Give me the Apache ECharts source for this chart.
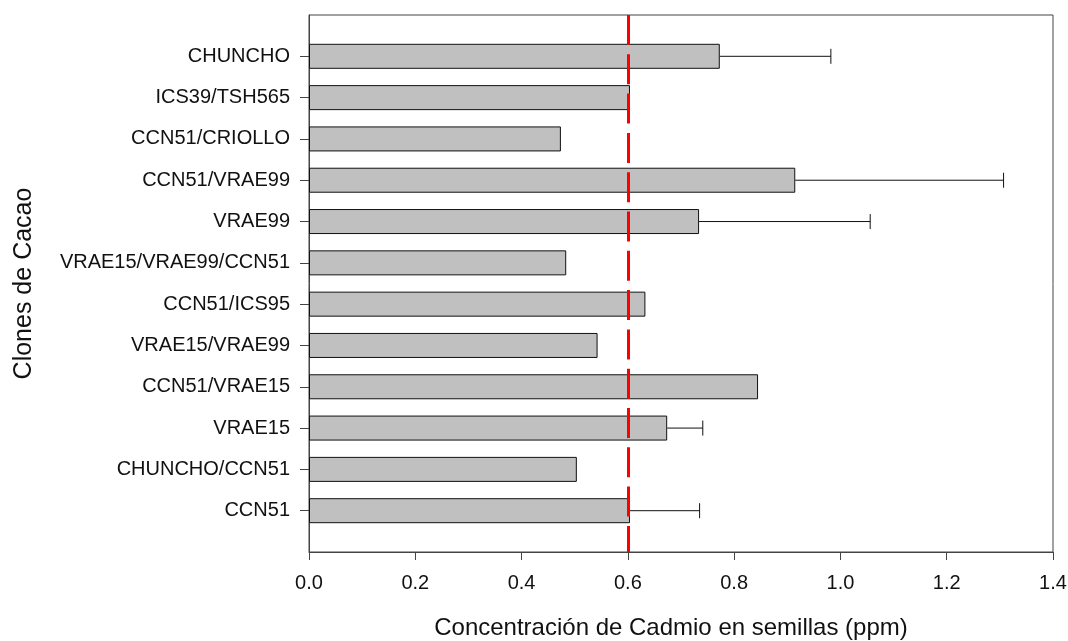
<!DOCTYPE html>
<html>
<head>
<meta charset="utf-8">
<script src="https://cdn.jsdelivr.net/npm/echarts@6/dist/echarts.min.js"></script>
<style>
html,body{margin:0;padding:0;background:#fff;}
#chart{width:1068px;height:641px;}
</style>
</head>
<body>
<div id="chart"></div>
<script>
// bottom-to-top order
var categories = ['CCN51','CHUNCHO/CCN51','VRAE15','CCN51/VRAE15','VRAE15/VRAE99','CCN51/ICS95','VRAE15/VRAE99/CCN51','VRAE99','CCN51/VRAE99','CCN51/CRIOLLO','ICS39/TSH565','CHUNCHO'];
var values = [0.604, 0.504, 0.674, 0.845, 0.543, 0.633, 0.484, 0.734, 0.915, 0.474, 0.604, 0.773];
var errorTop = [0.735, null, 0.741, null, null, null, null, 1.056, 1.307, null, null, 0.982];
var xTicks = [0, 0.2, 0.4, 0.6, 0.8, 1.0, 1.2, 1.4];
var threshold = 0.6;

var padCats = [''].concat(categories).concat(['']);
var padVals = [null].concat(values).concat([null]);
var errData = [];
for (var i = 0; i < categories.length; i++) {
  if (errorTop[i] != null) errData.push([i + 1, values[i], errorTop[i]]);
}
var FONT = '"Liberation Sans", Arial, sans-serif';
var chart = echarts.init(document.getElementById('chart'));
chart.setOption({
  animation: false,
  backgroundColor: '#fff',
  grid: {left: 309, right: 15, top: 15, bottom: 89, show: true, borderColor: '#444', borderWidth: 1,
    containLabel: false, outerBoundsMode: 'none'},
  xAxis: {
    type: 'value', min: xTicks[0], max: xTicks[xTicks.length - 1], interval: 0.2,
    name: 'Concentración de Cadmio en semillas (ppm)',
    nameLocation: 'middle', nameGap: 64,
    nameTextStyle: {fontFamily: FONT, fontSize: 24, color: '#111', padding: [0, 20, 0, 0]},
    axisLine: {show: true, lineStyle: {color: '#444', width: 1}},
    axisTick: {show: true, length: 8, lineStyle: {color: '#444'}},
    splitLine: {show: false},
    axisLabel: {fontFamily: FONT, fontSize: 20, color: '#111', margin: 21,
      formatter: function (v) { return v.toFixed(1); }}
  },
  yAxis: {
    type: 'category', data: padCats, boundaryGap: false,
    name: 'Clones de Cacao', nameLocation: 'middle', nameGap: 272, nameRotate: 90,
    nameTextStyle: {fontFamily: FONT, fontSize: 25, color: '#111'},
    axisLine: {show: true, lineStyle: {color: '#444', width: 1}},
    axisTick: {show: true, length: 9, lineStyle: {color: '#444'},
      interval: function (idx) { return idx > 0 && idx < padCats.length - 1; }},
    axisLabel: {fontFamily: FONT, fontSize: 20, color: '#111', margin: 19,
      interval: 0},
    splitLine: {show: false}
  },
  series: [
    {
      type: 'bar', data: padVals, barWidth: 25,
      itemStyle: {color: '#c0c0c0', borderColor: '#111', borderWidth: 1},
      markLine: {
        silent: true, symbol: 'none', label: {show: false}, z: 10,
        lineStyle: {color: '#ff0000', opacity: 1, width: 3, type: [30, 9.3]},
        emphasis: {disabled: true},
        data: [[{coord: [threshold, padCats.length - 1]}, {coord: [threshold, 0]}]]
      },
      z: 2
    },
    {
      type: 'custom', data: errData, z: 3,
      renderItem: function (params, api) {
        var y = api.value(0);
        var p0 = api.coord([api.value(1), y]);
        var p1 = api.coord([api.value(2), y]);
        var h = 7.5;
        return {
          type: 'group',
          children: [
            {type: 'line', shape: {x1: p0[0], y1: p0[1], x2: p1[0], y2: p1[1]}, style: {stroke: '#111', lineWidth: 1}},
            {type: 'line', shape: {x1: p1[0], y1: p1[1] - h, x2: p1[0], y2: p1[1] + h}, style: {stroke: '#111', lineWidth: 1}}
          ]
        };
      }
    }
  ]
});
</script>
</body>
</html>
